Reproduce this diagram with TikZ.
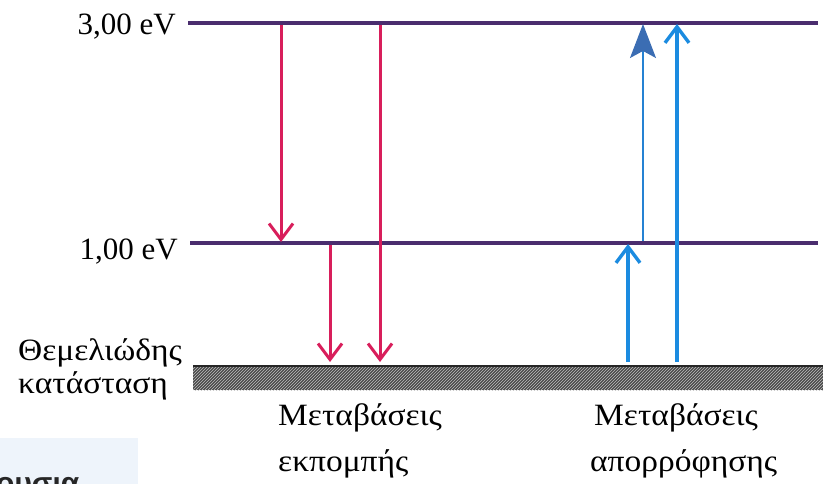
\documentclass[tikz,border=0pt]{standalone}
\usepackage{fontspec}
\setmainfont{Liberation Serif}
\newfontfamily\widegreek[FakeStretch=1.08]{Liberation Serif}
\newfontfamily\capsans{Liberation Sans}
\usetikzlibrary{arrows.meta,patterns}

\definecolor{levelcol}{HTML}{4A2D6E}
\definecolor{emitcol}{HTML}{D81E5B}
\definecolor{absorbcol}{HTML}{1B8BE0}
\definecolor{headcol}{HTML}{3B6DB3}
\definecolor{groundcol}{HTML}{4A4A4A}
\definecolor{panelcol}{HTML}{EEF4FB}

\tikzset{
  level/.style={levelcol, line width=4.5pt},
  emit/.style={emitcol, line width=3pt,
    -{Straight Barb[length=16pt,width=24pt,line width=3pt]}},
  absorb/.style={absorbcol, line width=3.4pt,
    -{Straight Barb[length=16pt,width=24pt,line width=3.4pt]}},
  thinabsorb/.style={absorbcol!70!headcol, line width=1.2pt,
    -{Stealth[length=34pt,width=26pt,inset=7pt,color=headcol,fill=headcol]}},
  evlabel/.style={anchor=base east, inner sep=0pt, font=\fontsize{31}{36}\selectfont},
  txt/.style={anchor=base west, inner sep=0pt, font=\widegreek\fontsize{31}{36}\selectfont},
}

\begin{document}
\begin{tikzpicture}[x=1pt,y=-1pt]
\useasboundingbox (0,0) rectangle (823,484);

% ground state band
\fill[groundcol] (193,366) rectangle (823,390);
\fill[pattern=north east lines, pattern color=gray!50] (193,366) rectangle (823,390);
\draw[black!85, line width=1.2pt] (193,366) -- (823,366);

% energy levels
\coordinate (L3a) at (188,23);
\coordinate (L3b) at (818,23);
\coordinate (L1a) at (190,243);
\coordinate (L1b) at (818,243);
\draw[level] (L3a) -- (L3b);
\draw[level] (L1a) -- (L1b);

% emission transitions
\coordinate (e1s) at (281,25);
\coordinate (e1e) at (281,242);
\coordinate (e2s) at (380,25);
\coordinate (e2e) at (380,362);
\coordinate (e3s) at (330,245);
\coordinate (e3e) at (330,362);
\draw[emit] (e1s) -- (e1e);
\draw[emit] (e2s) -- (e2e);
\draw[emit] (e3s) -- (e3e);

% absorption transitions
\coordinate (a1s) at (628,362);
\coordinate (a1e) at (628,244);
\coordinate (a2s) at (677,362);
\coordinate (a2e) at (677,24);
\coordinate (a3s) at (643,241);
\coordinate (a3e) at (643,24);
\draw[absorb] (a1s) -- (a1e);
\draw[absorb] (a2s) -- (a2e);
\draw[thinabsorb] (a3s) -- (a3e);

% level labels
\node[evlabel] (lab3) at (176,35) {3,00 eV};
\node[evlabel] (lab1) at (178,260) {1,00 eV};
\node[txt] (gs1) at (18,360) {Θεμελιώδης};
\node[txt] (gs2) at (18,393) {κατάσταση};

% group captions
\node[txt] (em1) at (278,425) {Μεταβάσεις};
\node[txt] (em2) at (278,471) {εκπομπής};
\node[txt] (ab1) at (594,425) {Μεταβάσεις};
\node[txt] (ab2) at (590,471) {απορρόφησης};

% corner panel
\begin{scope}
\clip (0,438) rectangle (138,484);
\fill[panelcol] (0,438) rectangle (138,484);
\node[anchor=base west, inner sep=0pt, text=black!85,
      font=\capsans\bfseries\fontsize{30}{34}\selectfont] (panel) at (-4,493) {ουσια};
\end{scope}
\end{tikzpicture}
\end{document}
